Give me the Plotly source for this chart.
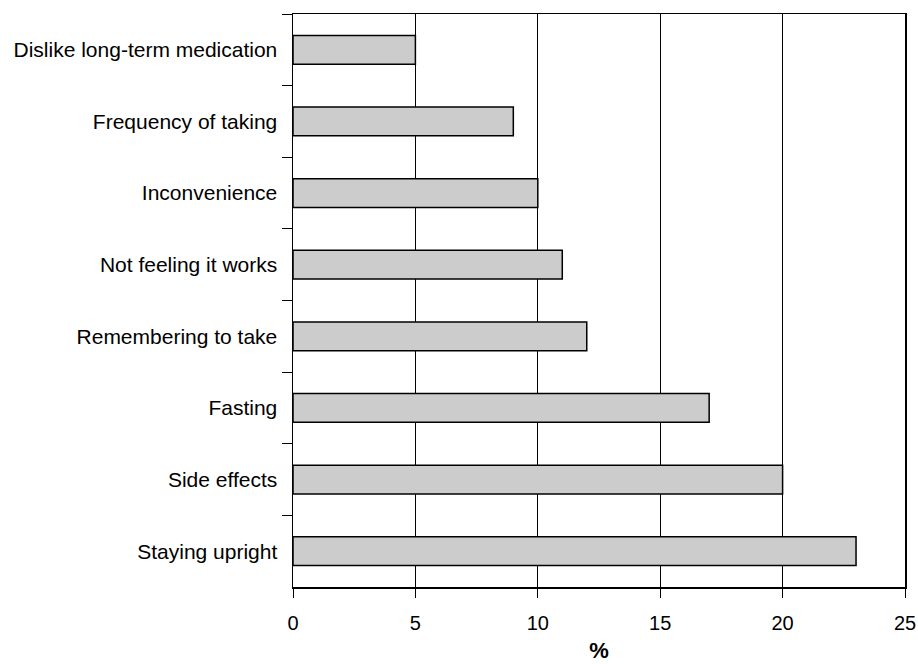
import plotly.graph_objects as go

categories = [
    "Dislike long-term medication",
    "Frequency of taking",
    "Inconvenience",
    "Not feeling it works",
    "Remembering to take",
    "Fasting",
    "Side effects",
    "Staying upright",
]
values = [5, 9, 10, 11, 12, 17, 20, 23]
x_ticks = [0, 5, 10, 15, 20, 25]

fig = go.Figure(
    go.Bar(
        x=values,
        y=categories,
        orientation="h",
        width=0.4,
        marker=dict(color="#cccccc", line=dict(color="#000000", width=1.5)),
    )
)

fig.update_layout(
    width=918,
    height=664,
    margin=dict(l=293, r=13, t=14, b=77),
    paper_bgcolor="white",
    plot_bgcolor="white",
    font=dict(family="Liberation Sans, Arial, sans-serif", size=20, color="#000000"),
    showlegend=False,
    bargap=0.6,
)

fig.update_xaxes(
    range=[0, 25],
    tickvals=x_ticks,
    ticktext=[str(v) for v in x_ticks],
    ticks="outside",
    ticklen=9,
    tickcolor="#000000",
    tickwidth=1,
    ticklabelstandoff=8,
    showgrid=True,
    gridcolor="#000000",
    gridwidth=1,
    zeroline=False,
    showline=True,
    linecolor="#000000",
    linewidth=1.5,
    mirror=True,
    automargin=False,
    tickfont=dict(size=20),
    title=dict(text="<b>%</b>", font=dict(size=22), standoff=10),
)

fig.update_yaxes(
    type="category",
    categoryorder="array",
    categoryarray=categories,
    range=[7.5, -0.5],
    tickson="boundaries",
    ticks="outside",
    ticklen=10,
    tickcolor="#000000",
    tickwidth=1,
    ticklabelstandoff=10,
    showgrid=False,
    zeroline=False,
    showline=True,
    linecolor="#000000",
    linewidth=1.5,
    mirror=True,
    automargin=False,
    tickfont=dict(size=21),
)

fig.write_html(
    "out.html",
    config={"displayModeBar": False, "staticPlot": True},
    post_script="document.body.style.margin='0';document.body.style.overflow='hidden';",
)
